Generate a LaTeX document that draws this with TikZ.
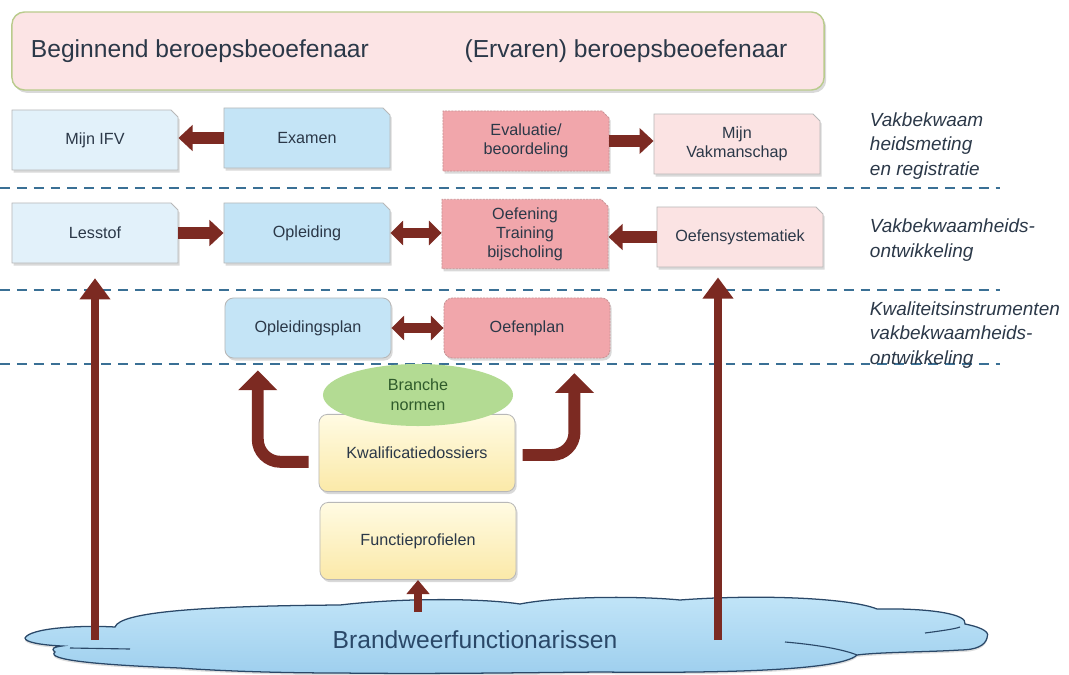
\documentclass[tikz,border=0pt]{standalone}
\usepackage{fontspec}
\setmainfont{Liberation Sans}
\usetikzlibrary{arrows.meta, positioning, calc, shapes.misc, shapes.geometric, shadows}
\definecolor{ink}{HTML}{2B3848}
\definecolor{paleblue}{HTML}{E2F1FA}
\definecolor{lightblue}{HTML}{C4E4F6}
\definecolor{rosepink}{HTML}{F1A6AB}
\definecolor{palepink}{HTML}{FBE3E3}
\definecolor{toppink}{HTML}{FCE4E5}
\definecolor{topline}{HTML}{B9CB8C}
\definecolor{boxline}{HTML}{B8B8B8}
\definecolor{pinkline}{HTML}{C99497}
\definecolor{normgreen}{HTML}{B3DB93}
\definecolor{normink}{HTML}{2F5B2B}
\definecolor{yelltop}{HTML}{FFFBE3}
\definecolor{yellbot}{HTML}{FBE9A8}
\definecolor{maroon}{HTML}{7C2A22}
\definecolor{divider}{HTML}{3A7095}
\definecolor{cloudtop}{HTML}{C2E5F8}
\definecolor{cloudbot}{HTML}{9ECFEE}
\definecolor{cloudline}{HTML}{2A4868}

\begin{document}
\begin{tikzpicture}[x=0.025cm, y=-0.025cm,
    box/.style={draw=boxline, line width=0.6pt, minimum width=4.15cm, minimum height=1.5cm,
      align=center, text=ink, font=\fontsize{11.5}{13.5}\selectfont,
      drop shadow={shadow xshift=1.2pt, shadow yshift=-1.8pt, opacity=0.3}},
    snipbox/.style={box, chamfered rectangle, chamfered rectangle corners=north east,
      chamfered rectangle xsep=2.5pt, chamfered rectangle ysep=2.5pt},
    pinkbox/.style={draw=pinkline, dash pattern=on 1.5pt off 0.8pt, fill=rosepink},
    roundbox/.style={box, rounded corners=6pt},
    yellbox/.style={roundbox, minimum width=4.9cm, minimum height=1.93cm, top color=yelltop, bottom color=yellbot},
    blockarrow/.style={maroon, line width=8pt, -{Triangle[width=18pt,length=10pt]}},
    twoway/.style={maroon, line width=7.5pt, {Triangle[width=17pt,length=9pt]}-{Triangle[width=17pt,length=9pt]}},
    bentarrow/.style={maroon, line width=8.5pt, rounded corners=16pt, -{Triangle[width=27pt,length=14pt]}},
    longarrow/.style={maroon, line width=5pt, -{Triangle[width=21pt,length=15pt]}},
    sidelabel/.style={anchor=west, align=left, text=ink, font=\fontsize{13.5}{17.7}\selectfont\itshape}]
  \useasboundingbox (0,0) rectangle (1069,675);

  % bovenste balk
  \node[draw=topline, line width=1pt, fill=toppink, rounded corners=9pt, minimum width=20.3cm, minimum height=1.95cm,
    drop shadow={shadow xshift=1.5pt, shadow yshift=-2pt, opacity=0.3}] (niveau) at (418,51) {};
  \node[anchor=west, text=ink, font=\fontsize{17.5}{20}\selectfont] (beginnend) at (26,51) {Beginnend beroepsbeoefenaar};
  \node[text=ink, font=\fontsize{17.5}{20}\selectfont] (ervaren) at (626,51) {(Ervaren) beroepsbeoefenaar};

  % scheidingslijnen
  \foreach \Y in {188,290,364}
    \draw[divider, line width=1.1pt, dash pattern=on 7pt off 5pt] (0,\Y) -- (1000,\Y);

  % meting en registratie
  \node[snipbox, fill=paleblue] (mijnifv) at (95,140) {Mijn IFV};
  \node[snipbox, fill=lightblue] (examen) at (307,138) {Examen};
  \node[snipbox, pinkbox] (evaluatie) at (526,141) {Evaluatie/\\beoordeling};
  \node[snipbox, fill=palepink] (vakmanschap) at (737,144) {Mijn\\Vakmanschap};

  % ontwikkeling
  \node[snipbox, fill=paleblue] (lesstof) at (95,233) {Lesstof};
  \node[snipbox, fill=lightblue] (opleiding) at (307,233) {Opleiding};
  \node[snipbox, pinkbox] (oefening) at (525,234) {Oefening\\Training\\bijscholing};
  \node[snipbox, fill=palepink] (systematiek) at (740,237) {Oefensystematiek};

  % kwaliteitsinstrumenten
  \node[roundbox, fill=lightblue] (opleidingsplan) at (308,328) {Opleidingsplan};
  \node[roundbox, pinkbox] (oefenplan) at (527,328) {Oefenplan};

  \node[yellbox] (kwalificatie) at (417,453) {Kwalificatiedossiers};
  \node[ellipse, fill=normgreen, minimum width=4.75cm, minimum height=1.55cm, align=center, text=normink,
    font=\fontsize{11.5}{14.5}\selectfont] (branche) at (418,395) {Branche\\normen};
  \node[yellbox] (functie) at (418,541) {Functieprofielen};

  % wolk
  \draw[cloudline, line width=0.9pt, top color=cloudtop, bottom color=cloudbot,
    drop shadow={shadow xshift=0pt, shadow yshift=-1.5pt, opacity=0.25}]
    (25,638) .. controls (30,628) and (80,625) .. (115,627)
    .. controls (120,612) and (200,606) .. (340,605)
    .. controls (400,598) and (480,598) .. (520,604)
    .. controls (560,596) and (640,596) .. (680,600)
    .. controls (760,594) and (850,598) .. (877,609)
    .. controls (930,608) and (968,614) .. (965,624)
    .. controls (985,628) and (990,633) .. (987,638)
    .. controls (985,646) and (975,650) .. (960,650)
    .. controls (930,652) and (880,652) .. (857,655)
    .. controls (840,672) and (700,673) .. (600,672)
    .. controls (500,673) and (420,674) .. (340,673)
    .. controls (280,673) and (220,671) .. (180,668)
    .. controls (100,665) and (45,660) .. (55,652)
    .. controls (50,648) and (55,647) .. (62,646)
    .. controls (40,645) and (25,642) .. (25,638) -- cycle;
  \draw[cloudline, line width=0.8pt] (70,648) -- (130,649);
  \draw[cloudline, line width=0.8pt] (785,642) .. controls (820,645) and (845,650) .. (857,655);
  \draw[cloudline, line width=0.8pt] (925,633) .. controls (940,631) and (955,629) .. (960,627);
  \node[text=cloudline, font=\fontsize{17.5}{20}\selectfont] (brandweer) at (475,640) {Brandweerfunctionarissen};

  \foreach \X in {1,2,3}
    \node[sidelabel] (kop\X) at (865,{ifthenelse(\X==1,146,ifthenelse(\X==2,240,335))}) {};
  \node[sidelabel] at (kop1.west) {Vakbekwaam\\heidsmeting\\en registratie};
  \node[sidelabel] at (kop2.west) {Vakbekwaamheids-\\ontwikkeling};
  \node[sidelabel] at (kop3.west) {Kwaliteitsinstrumenten\\vakbekwaamheids-\\ontwikkeling};

  % pijlen
  \draw[blockarrow] (examen.west) -- (examen.west -| mijnifv.east);
  \draw[blockarrow] (evaluatie.east) -- (evaluatie.east -| vakmanschap.west);
  \draw[blockarrow] (lesstof.east) -- (opleiding.west);
  \draw[twoway] (opleiding.east) -- (opleiding.east -| oefening.west);
  \draw[blockarrow] (systematiek.west) -- (systematiek.west -| oefening.east);
  \draw[twoway] (opleidingsplan.east) -- (oefenplan.west);
  \draw[bentarrow] ([xshift=-0.25cm,yshift=-0.22cm]kwalificatie.west) -| ([xshift=0.83cm,yshift=-0.3cm]opleidingsplan.south west);
  \draw[bentarrow] ([xshift=0.18cm,yshift=-0.05cm]kwalificatie.east) -| ([xshift=-0.9cm,yshift=-0.37cm]oefenplan.south east);
  \draw[maroon, line width=5.5pt, -{Triangle[width=16pt,length=10pt]}] ([yshift=-0.8cm]functie.south) -- (functie.south);
  \draw[longarrow, shorten >=0.37cm] (lesstof.south |- brandweer) -- (lesstof.south);
  \draw[longarrow, shorten >=0.25cm] ([xshift=-0.55cm]systematiek.south |- brandweer) -- ([xshift=-0.55cm]systematiek.south);
\end{tikzpicture}
\end{document}
